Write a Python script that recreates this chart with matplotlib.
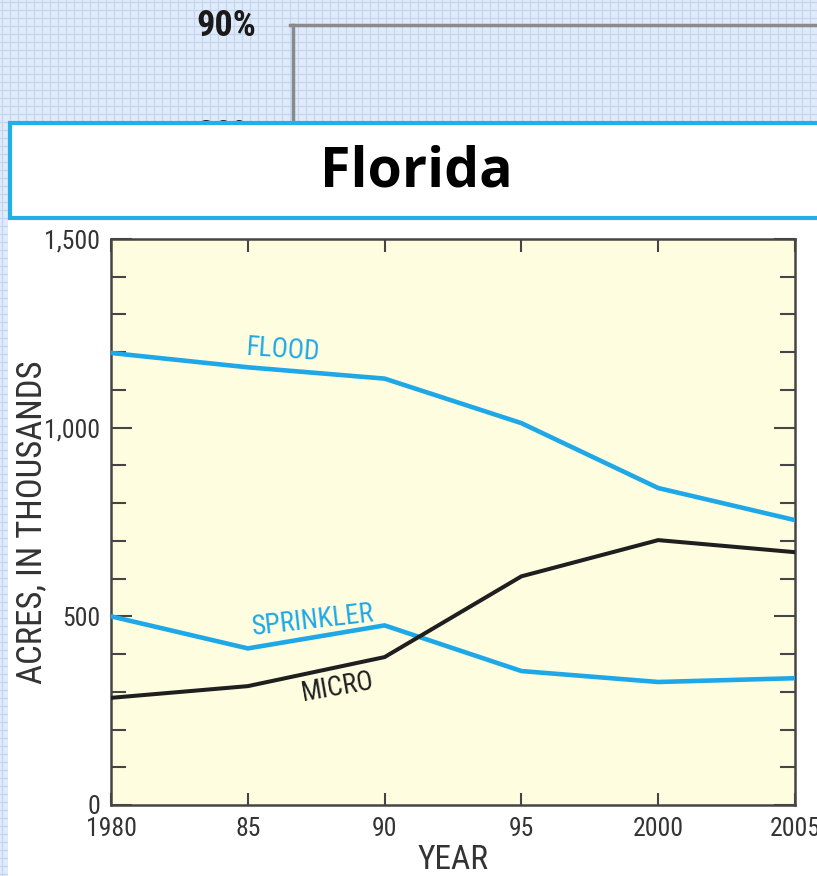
import matplotlib
matplotlib.use("Agg")
import matplotlib.pyplot as plt
from matplotlib.patches import Rectangle
from matplotlib.ticker import MultipleLocator, FixedLocator
import numpy as np

# ---- data ----
years = [1980, 1985, 1990, 1995, 2000, 2005]
flood = [1198, 1160, 1130, 1012, 840, 755]
sprinkler = [500, 415, 476, 355, 326, 336]
micro = [284, 315, 392, 606, 702, 670]
xtick_vals = [1980, 1985, 1990, 1995, 2000, 2005]
xtick_labels = ["1980", "85", "90", "95", "2000", "2005"]
ytick_vals = [0, 500, 1000, 1500]
ytick_labels = ["0", "500", "1,000", "1,500"]
title = "Florida"

BLUE = "#1ea8e8"
BLACK = "#1f1f1f"
YELLOW = "#fefde0"
AXC = "#454545"
TXT = "#333333"
NARROW = ["Roboto Condensed", "Archivo Narrow", "PT Sans Narrow",
          "Liberation Sans Narrow", "Arial Narrow", "DejaVu Sans"]

W, H = 817, 876
fig = plt.figure(figsize=(W / 100, H / 100), dpi=100)

# ---- background decoration (pixel coordinates) ----
bg = fig.add_axes([0, 0, 1, 1], zorder=0)
bg.set_xlim(0, W)
bg.set_ylim(H, 0)
bg.axis("off")
bg.add_patch(Rectangle((0, 0), W, H, facecolor="#e0eaf9", edgecolor="none"))
for gx in np.arange(2, W, 8):
    bg.plot([gx, gx], [0, H], color="#c2d5f2", lw=0.9, zorder=1)
for gy in np.arange(2, H, 8):
    bg.plot([0, W], [gy, gy], color="#c2d5f2", lw=0.9, zorder=1)
bg.plot([290, W], [25, 25], color="#8a8a8a", lw=2.5, zorder=2)
bg.plot([293, 293], [25, 125], color="#8a8a8a", lw=2.5, zorder=2)
bg.text(256, 26, "90%", ha="right", va="center", fontsize=26,
        fontweight="bold", color="#1a1a1a", family=NARROW, zorder=2)
bg.text(256, 136, "80%", ha="right", va="center", fontsize=26,
        fontweight="bold", color="#1a1a1a", family=NARROW, zorder=2)
bg.add_patch(Rectangle((8, 122), W, H, facecolor="white", edgecolor="none", zorder=3))
bg.add_patch(Rectangle((10, 123), W + 20, 95, facecolor="white",
                       edgecolor="#22b0e6", lw=3, zorder=4))
bg.text(416, 172, title, ha="center", va="center", fontsize=40,
        fontweight="bold", color="black", family=["Open Sans", "DejaVu Sans"], zorder=5)

# ---- main chart ----
ax = fig.add_axes([111 / W, 1 - 805 / H, 684 / W, 566 / H], zorder=2)
ax.set_facecolor(YELLOW)
ax.plot(years, flood, color=BLUE, lw=3.3, solid_joinstyle="round", zorder=3)
ax.plot(years, sprinkler, color=BLUE, lw=3.3, solid_joinstyle="round", zorder=3)
ax.plot(years, micro, color=BLACK, lw=2.9, solid_joinstyle="round", zorder=4)

ax.set_xlim(1980, 2005)
ax.set_ylim(0, 1500)
ax.xaxis.set_major_locator(FixedLocator(xtick_vals))
ax.set_xticklabels(xtick_labels)
ax.yaxis.set_major_locator(FixedLocator(ytick_vals))
ax.set_yticklabels(ytick_labels)
ax.yaxis.set_minor_locator(MultipleLocator(100))

for sp in ax.spines.values():
    sp.set_color(AXC)
    sp.set_linewidth(1.8)

ax.tick_params(axis="x", which="major", direction="in", top=True, bottom=True,
               length=9, width=1.5, color=AXC, pad=9, labelsize=18.5, labelcolor=TXT)
ax.tick_params(axis="y", which="major", direction="in", left=True, right=True,
               length=15, width=1.5, color=AXC, pad=8, labelsize=18.5, labelcolor=TXT)
ax.tick_params(axis="y", which="minor", direction="in", left=True, right=True,
               length=11, width=1.5, color=AXC)
for lab in ax.get_xticklabels() + ax.get_yticklabels():
    lab.set_family(NARROW)

ax.set_xlabel("YEAR", fontsize=24, color=TXT, family=NARROW)
ax.xaxis.set_label_coords(0.5, -0.098)
ax.xaxis.label.set_va("center")
ax.set_ylabel("ACRES, IN THOUSANDS", fontsize=25, color=TXT, family=NARROW)
ax.yaxis.set_label_coords(-0.1155, 0.5)
ax.yaxis.label.set_va("center")

ax.text(1986.3, 1205, "FLOOD", color=BLUE, fontsize=19.5, rotation=-4,
        ha="center", va="center", family=NARROW, zorder=5)
ax.text(1987.4, 490, "SPRINKLER", color=BLUE, fontsize=19.5, rotation=6.5,
        ha="center", va="center", family=NARROW, zorder=5)
ax.text(1988.3, 313, "MICRO", color=BLACK, fontsize=19.5, rotation=10,
        ha="center", va="center", family=NARROW, zorder=5)

fig.savefig("out.png", dpi=100)
